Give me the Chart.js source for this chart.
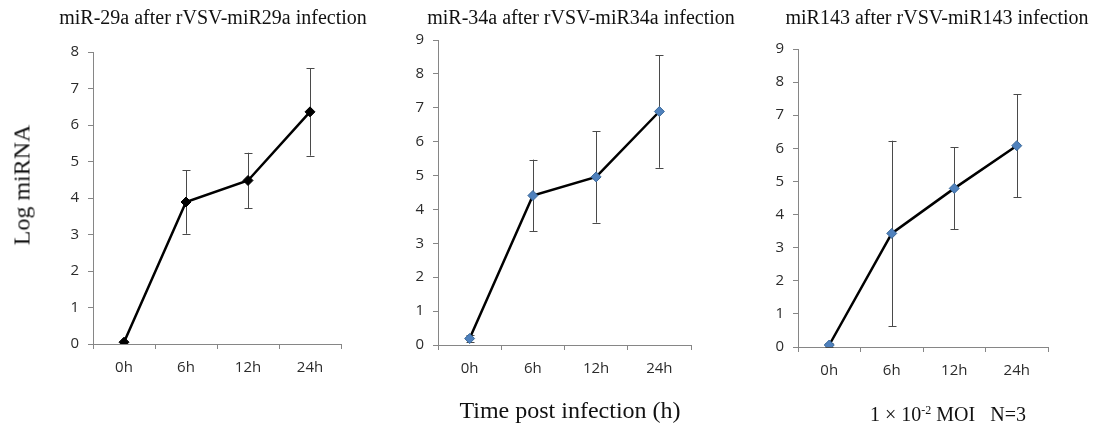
<!doctype html>
<html lang="en">
<head>
<meta charset="utf-8">
<title>miRNA after rVSV infection</title>
<style>
  * { margin: 0; padding: 0; }
  body { width: 1099px; height: 427px; background: #fff; position: relative; overflow: hidden; }
  .box { position: absolute; top: 0; height: 427px; }
  .lbl { position: absolute; font-family: "Liberation Serif", serif; color: #111; white-space: nowrap; transform: translate(-50%, -50%); }
  .title { font-size: 20px; top: 17px; }
  sup { font-size: 12px; vertical-align: 7px; line-height: 0; }
</style>
</head>
<body>
  <div class="box" style="left:0;width:370px"><canvas id="c1"></canvas></div>
  <div class="box" style="left:370px;width:365px"><canvas id="c2"></canvas></div>
  <div class="box" style="left:735px;width:364px"><canvas id="c3"></canvas></div>

  <div class="lbl title" style="left:213px">miR-29a after rVSV-miR29a infection</div>
  <div class="lbl title" style="left:581px">miR-34a after rVSV-miR34a infection</div>
  <div class="lbl title" style="left:937px">miR143 after rVSV-miR143 infection</div>
  <div class="lbl" style="left:22px;top:185px;font-size:24px;transform:translate(-50%,-50%) rotate(-90deg)">Log miRNA</div>
  <div class="lbl" style="left:570px;top:410px;font-size:24px">Time post infection (h)</div>
  <div class="lbl" style="left:948px;top:414px;font-size:20px">1 × 10<sup>-2</sup> MOI &nbsp; N=3</div>

<script src="https://cdn.jsdelivr.net/npm/chart.js"></script>
<script>
// data
const hours = ['0h', '6h', '12h', '24h']

const mir29aMean = [0.05, 3.89, 4.48, 6.36]
const mir29aErr = [0, 0.87, 0.76, 1.2]

const mir34aMean = [0.19, 4.41, 4.96, 6.89]
const mir34aErr = [0.1, 1.06, 1.35, 1.66]

const mir143Mean = [0.06, 3.43, 4.79, 6.08]
const mir143Err = [0.05, 2.8, 1.24, 1.55]

const axisGrey = '#868686'

// vertical error bars with caps, drawn through the chart scales
const errorBars = {
    id: 'errorBars',
    beforeDatasetsDraw(chart) {
        const { ctx, scales: { x, y } } = chart
        const ds = chart.data.datasets[0]
        const errs = ds.errors || []
        ctx.save()
        ctx.strokeStyle = '#4a4a4a'
        ctx.lineWidth = 1
        ds.data.forEach((v, i) => {
            const e = errs[i]
            if (!e) return
            const px = Math.round(x.getPixelForValue(i)) + 0.5
            const top = y.getPixelForValue(v + e)
            const bot = y.getPixelForValue(v - e)
            ctx.beginPath()
            ctx.moveTo(px, top)
            ctx.lineTo(px, bot)
            ctx.moveTo(px - 4, Math.round(top) + 0.5)
            ctx.lineTo(px + 4, Math.round(top) + 0.5)
            ctx.moveTo(px - 4, Math.round(bot) + 0.5)
            ctx.lineTo(px + 4, Math.round(bot) + 0.5)
            ctx.stroke()
        })
        ctx.restore()
    }
}

function makeChart(id, w, area, mean, err, yMax, markerFill, markerBorder) {
    const canvas = document.getElementById(id)
    canvas.width = w
    canvas.height = 427
    return new Chart(canvas, {
        type: 'line',
        data: {
            labels: hours,
            datasets: [{
                data: mean,
                errors: err,
                borderColor: '#000',
                borderWidth: 2.5,
                tension: 0,
                pointStyle: 'rectRot',
                pointRadius: 5,
                pointBackgroundColor: markerFill,
                pointBorderColor: markerBorder,
                pointBorderWidth: 1
            }]
        },
        options: {
            responsive: false,
            animation: false,
            events: [],
            layout: {
                padding: { top: area.top, left: 0, right: w - area.right, bottom: 0 }
            },
            plugins: {
                legend: { display: false },
                tooltip: { enabled: false }
            },
            scales: {
                x: {
                    offset: true,
                    grid: { offset: true, drawOnChartArea: false, color: axisGrey, tickLength: 5 },
                    border: { color: axisGrey, width: 1 },
                    ticks: { color: '#2b2b2b', padding: 10, font: { family: 'Open Sans', size: 15 } },
                    afterFit(s) { s.height = 427 - area.bottom }
                },
                y: {
                    min: 0,
                    max: yMax,
                    grid: { drawOnChartArea: false, color: axisGrey, tickLength: 5 },
                    border: { color: axisGrey, width: 1 },
                    ticks: { stepSize: 1, color: '#2b2b2b', padding: 9, font: { family: 'Open Sans', size: 15 } },
                    afterFit(s) { s.width = area.left }
                }
            }
        },
        plugins: [errorBars]
    })
}

makeChart('c1', 370, { left: 93, right: 341, top: 52, bottom: 344 }, mir29aMean, mir29aErr, 8, '#000', '#000')
makeChart('c2', 365, { left: 68, right: 321, top: 40, bottom: 345 }, mir34aMean, mir34aErr, 9, '#4F81BD', '#3A6899')
makeChart('c3', 364, { left: 63, right: 313, top: 49, bottom: 347 }, mir143Mean, mir143Err, 9, '#4F81BD', '#3A6899')
</script>
</body>
</html>
